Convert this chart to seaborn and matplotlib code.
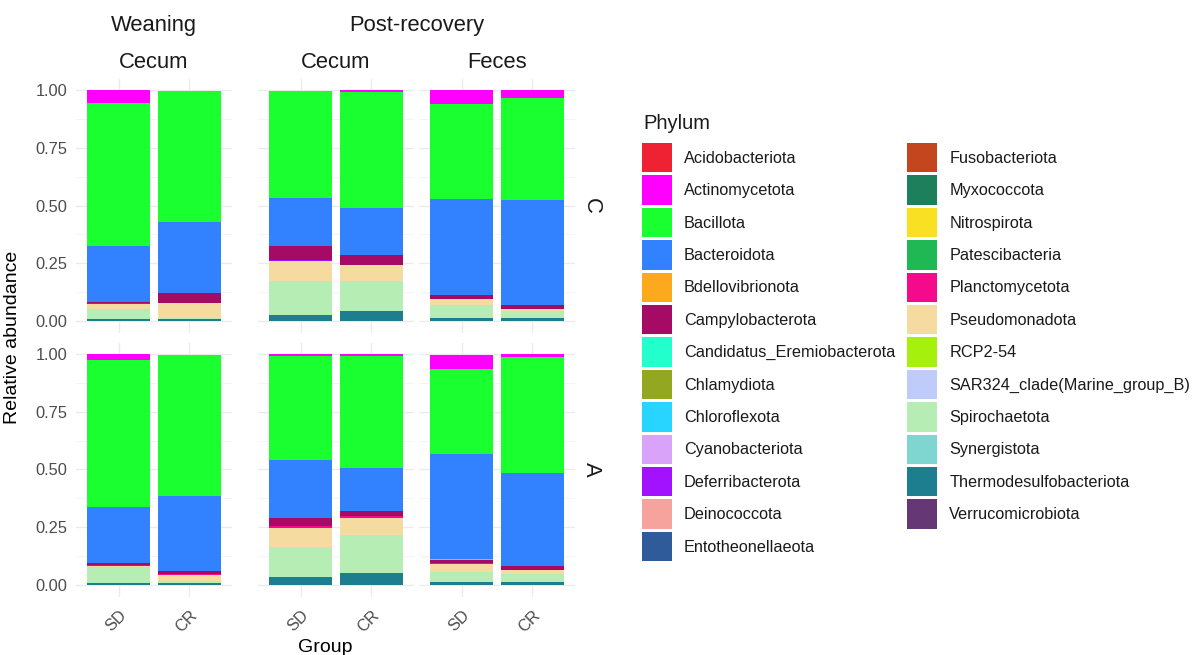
import numpy as np
import pandas as pd
import matplotlib
matplotlib.use("Agg")
import matplotlib.pyplot as plt
from matplotlib.patches import Patch
import seaborn as sns

# ---------------- data ----------------
phyla = ["Acidobacteriota", "Actinomycetota", "Bacillota", "Bacteroidota",
         "Bdellovibrionota", "Campylobacterota", "Candidatus_Eremiobacterota",
         "Chlamydiota", "Chloroflexota", "Cyanobacteriota", "Deferribacterota",
         "Deinococcota", "Entotheonellaeota", "Fusobacteriota", "Myxococcota",
         "Nitrospirota", "Patescibacteria", "Planctomycetota", "Pseudomonadota",
         "RCP2-54", "SAR324_clade(Marine_group_B)", "Spirochaetota",
         "Synergistota", "Thermodesulfobacteriota", "Verrucomicrobiota"]
phylum_colors = ["#EE2233", "#FF00FF", "#19FF30", "#3282FF", "#FCA91E",
                 "#A50A64", "#22FFCC", "#93A820", "#28D5FF", "#D9A3FA",
                 "#A312FF", "#F6A29D", "#2F5B9B", "#C3461E", "#1D7F5C",
                 "#FAE022", "#20B755", "#F50A8C", "#F5DB9F", "#A6F00E",
                 "#BFCCFA", "#B5EDB5", "#7FD6D1", "#1D7E8F", "#653775"]

rows = ["C", "A"]
stages = ["Weaning", "Post-recovery", "Post-recovery"]
sites = ["Cecum", "Cecum", "Feces"]
groups = ["SD", "CR"]

# bar order: row C (Weaning-Cecum SD, CR, Post-Cecum SD, CR, Post-Feces SD, CR), then row A (same)
acidobacteriota   = [0.000, 0.000, 0.001, 0.000, 0.000, 0.000, 0.000, 0.001, 0.000, 0.000, 0.000, 0.000]
actinomycetota    = [0.055, 0.001, 0.003, 0.007, 0.062, 0.033, 0.027, 0.003, 0.010, 0.007, 0.064, 0.012]
bacillota         = [0.619, 0.567, 0.461, 0.503, 0.410, 0.445, 0.638, 0.608, 0.450, 0.486, 0.365, 0.502]
bacteroidota      = [0.242, 0.310, 0.208, 0.206, 0.415, 0.451, 0.241, 0.324, 0.251, 0.185, 0.457, 0.405]
bdellovibrionota  = [0.000, 0.000, 0.000, 0.000, 0.000, 0.000, 0.000, 0.000, 0.000, 0.000, 0.005, 0.000]
campylobacterota  = [0.008, 0.042, 0.060, 0.041, 0.020, 0.019, 0.010, 0.014, 0.032, 0.023, 0.011, 0.016]
deferribacterota  = [0.004, 0.000, 0.007, 0.000, 0.000, 0.000, 0.002, 0.000, 0.000, 0.000, 0.000, 0.000]
planctomycetota   = [0.000, 0.000, 0.000, 0.000, 0.000, 0.000, 0.000, 0.005, 0.009, 0.007, 0.006, 0.000]
pseudomonadota    = [0.020, 0.065, 0.087, 0.069, 0.023, 0.011, 0.005, 0.024, 0.085, 0.075, 0.032, 0.017]
spirochaetota     = [0.045, 0.005, 0.145, 0.133, 0.058, 0.027, 0.071, 0.012, 0.130, 0.166, 0.045, 0.035]
thermodesulfo     = [0.007, 0.008, 0.026, 0.041, 0.012, 0.014, 0.007, 0.007, 0.033, 0.051, 0.013, 0.013]

abundance = {
    "Acidobacteriota": acidobacteriota,
    "Actinomycetota": actinomycetota,
    "Bacillota": bacillota,
    "Bacteroidota": bacteroidota,
    "Bdellovibrionota": bdellovibrionota,
    "Campylobacterota": campylobacterota,
    "Deferribacterota": deferribacterota,
    "Planctomycetota": planctomycetota,
    "Pseudomonadota": pseudomonadota,
    "Spirochaetota": spirochaetota,
    "Thermodesulfobacteriota": thermodesulfo,
}

records = []
for r_i, row in enumerate(rows):
    for f_i in range(3):
        for g_i, grp in enumerate(groups):
            idx = r_i * 6 + f_i * 2 + g_i
            for ph in phyla:
                val = abundance.get(ph, [0.0] * 12)[idx]
                records.append(dict(Row=row, Facet=f_i, Group=grp, Phylum=ph, Abundance=val))
df = pd.DataFrame(records)
df["Group"] = pd.Categorical(df["Group"], categories=groups, ordered=True)

# ---------------- style ----------------
sns.set_theme(style="white")
plt.rcParams["font.family"] = ["Liberation Sans", "DejaVu Sans"]

W, H = 1193, 655
fig = plt.figure(figsize=(W / 100, H / 100), dpi=100)
fig.patch.set_facecolor("white")

col_x = [76, 258, 419]
col_w = 156
row_top = [78.5, 342.5]
row_h = 254

palette = dict(zip(phyla, phylum_colors))
tick_color = "#4D4D4D"
text_color = "#1A1A1A"
grid_color = "#EBEBEB"
tick_fs = 11.8

for r_i, row in enumerate(rows):
    for f_i in range(3):
        left = col_x[f_i] / W
        bottom = 1 - (row_top[r_i] + row_h) / H
        ax = fig.add_axes([left, bottom, col_w / W, row_h / H])
        sub = df[(df["Row"] == row) & (df["Facet"] == f_i)].copy()
        sub["x"] = sub["Group"].cat.codes.astype(float)
        sns.histplot(data=sub, x="x", hue="Phylum", weights="Abundance",
                     multiple="stack", discrete=True, shrink=0.9,
                     hue_order=phyla, palette=palette, alpha=1, linewidth=0,
                     legend=False, ax=ax, zorder=3)
        ax.set_xlim(-0.6, 1.6)
        ax.set_ylim(-0.05, 1.05)
        ax.set_facecolor("white")
        for s in ax.spines.values():
            s.set_visible(False)
        ax.set_xticks([0, 1])
        ax.set_yticks([0, 0.25, 0.5, 0.75, 1.0])
        ax.set_yticks([0.125, 0.375, 0.625, 0.875], minor=True)
        ax.grid(True, which="major", color=grid_color, linewidth=1.0, zorder=0)
        ax.grid(True, which="minor", axis="y", color="#F3F3F3", linewidth=0.6, zorder=0)
        ax.set_axisbelow(True)
        ax.tick_params(axis="both", which="both", length=0)
        ax.set_xlabel("")
        ax.set_ylabel("")
        if f_i == 0:
            ax.set_yticklabels(["0.00", "0.25", "0.50", "0.75", "1.00"],
                               fontsize=tick_fs, color=tick_color)
            ax.tick_params(axis="y", pad=6)
        else:
            ax.set_yticklabels([])
        if r_i == 1:
            ax.set_xticklabels(groups, fontsize=tick_fs, color=tick_color,
                               rotation=45, ha="right", va="top",
                               rotation_mode="anchor")
            ax.tick_params(axis="x", pad=8)
        else:
            ax.set_xticklabels([])

# strip labels
strip_fs = 15.8
fig.text((col_x[0] + col_w / 2) / W, 1 - 25 / H, "Weaning", ha="center", va="center",
         fontsize=strip_fs, color=text_color)
fig.text(((col_x[1] + col_x[2] + col_w) / 2) / W, 1 - 25 / H, "Post-recovery",
         ha="center", va="center", fontsize=strip_fs, color=text_color)
for f_i in range(3):
    fig.text((col_x[f_i] + col_w / 2) / W, 1 - 62 / H, sites[f_i], ha="center",
             va="center", fontsize=strip_fs, color=text_color)
for r_i, row in enumerate(rows):
    fig.text(591 / W, 1 - (row_top[r_i] + row_h / 2) / H, row, ha="center",
             va="center", rotation=-90, fontsize=strip_fs, color=text_color)

# axis titles
fig.text(13 / W, 1 - 337 / H, "Relative abundance", rotation=90, ha="center",
         va="center", fontsize=14, color="black")
fig.text((col_x[0] + col_x[2] + col_w) / 2 / W, 1 - 648 / H, "Group", ha="center",
         va="center", fontsize=14, color="black")

# legend
handles = [Patch(facecolor=c, edgecolor="none") for c in phylum_colors]
leg_fs = 11.7
fs_px = leg_fs * 100 / 72
key_h = 29.5
pitch = 32.4
# matplotlib key box height = fs * (0.65 * handleheight + 0.245)
hh = (key_h / fs_px - 0.245) / 0.65
fig.text(643 / W, 1 - 123.5 / H, "Phylum", ha="left", va="center", fontsize=14.5,
         color=text_color)
leg = fig.legend(handles, phyla, loc="upper left",
                 bbox_to_anchor=(642 / W, 1 - 143 / H),
                 ncol=2, frameon=False, fontsize=leg_fs,
                 borderpad=0, borderaxespad=0,
                 handlelength=30 / fs_px, handleheight=hh,
                 labelspacing=(pitch - key_h) / fs_px, handletextpad=12 / fs_px,
                 columnspacing=12 / fs_px)
for t in leg.get_texts():
    t.set_color(text_color)

fig.savefig("out.png", dpi=100, facecolor="white")
